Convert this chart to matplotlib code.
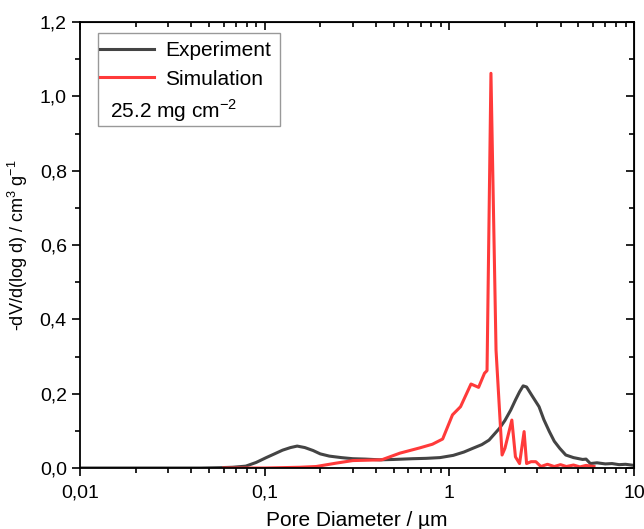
import matplotlib
matplotlib.use('Agg')
import matplotlib.pyplot as plt
from matplotlib.ticker import FuncFormatter, MultipleLocator, LogLocator
from matplotlib.patches import Rectangle

plt.rcParams['font.family'] = ['Liberation Sans', 'DejaVu Sans']
plt.rcParams['mathtext.fontset'] = 'custom'
plt.rcParams['mathtext.rm'] = 'Liberation Sans'

# Experiment (mercury porosimetry)
exp_d = [0.01, 0.03, 0.045, 0.058, 0.067, 0.079, 0.09, 0.102, 0.113, 0.125, 0.138,
         0.15, 0.165, 0.183, 0.2, 0.224, 0.26, 0.3, 0.35, 0.42, 0.5, 0.63, 0.75,
         0.89, 1.05, 1.2, 1.34, 1.5, 1.64, 1.87, 2.0, 2.15, 2.28, 2.4, 2.51, 2.62,
         2.8, 3.06, 3.25, 3.48, 3.7, 3.96, 4.27, 4.7, 5.27, 5.5, 5.8, 6.3, 7.0,
         7.6, 8.3, 9.0, 10.0]
exp_v = [0.0, 0.0, 0.0, 0.001, 0.002, 0.005, 0.015, 0.028, 0.038, 0.048, 0.055,
         0.059, 0.055, 0.047, 0.038, 0.032, 0.028, 0.025, 0.024, 0.022, 0.023, 0.025,
         0.026, 0.028, 0.034, 0.043, 0.053, 0.063, 0.075, 0.107, 0.128, 0.156, 0.183,
         0.205, 0.221, 0.218, 0.195, 0.165, 0.13, 0.098, 0.072, 0.053, 0.035, 0.028,
         0.023, 0.024, 0.012, 0.014, 0.011, 0.012, 0.009, 0.01, 0.007]

# Simulation
sim_d = [0.06, 0.1, 0.155, 0.19, 0.243, 0.3, 0.43, 0.54, 0.69, 0.81, 0.92, 1.04,
         1.15, 1.31, 1.44, 1.55, 1.6, 1.68, 1.79, 1.93, 2.0, 2.18, 2.28, 2.4, 2.54,
         2.62, 2.77, 2.94, 3.13, 3.4, 3.7, 4.0, 4.3, 4.7, 5.1, 5.5, 6.07]
sim_v = [0.0, 0.0, 0.002, 0.004, 0.013, 0.02, 0.022, 0.04, 0.054, 0.064, 0.078,
         0.143, 0.165, 0.226, 0.217, 0.255, 0.262, 1.062, 0.317, 0.035, 0.053, 0.129,
         0.03, 0.012, 0.098, 0.012, 0.017, 0.017, 0.004, 0.01, 0.004, 0.009, 0.004,
         0.008, 0.003, 0.007, 0.004]

xticks = [0.01, 0.1, 1, 10]
xticklabels = ['0,01', '0,1', '1', '10']

fig = plt.figure(figsize=(6.44, 5.29), dpi=100)
ax = fig.add_axes([0.1242, 0.1153, 0.8603, 0.8431])

ax.plot(exp_d, exp_v, color='#444444', lw=2.2, label='Experiment')
ax.plot(sim_d, sim_v, color='#ff3a3a', lw=2.2, label='Simulation')

ax.set_xscale('log')
ax.set_xlim(0.01, 10)
ax.set_ylim(0, 1.2)
ax.set_xticks(xticks)
ax.set_xticklabels(xticklabels)
ax.xaxis.set_minor_locator(LogLocator(base=10, subs=range(2, 10)))
ax.yaxis.set_major_locator(MultipleLocator(0.2))
ax.yaxis.set_minor_locator(MultipleLocator(0.1))
ax.yaxis.set_major_formatter(FuncFormatter(lambda v, p: f'{v:.1f}'.replace('.', ',')))
ax.xaxis.set_minor_formatter(FuncFormatter(lambda v, p: ''))

ax.tick_params(which='major', direction='out', length=6, width=1.2, labelsize=14, colors='black')
ax.tick_params(which='minor', direction='out', length=3.5, width=1.2)
ax.tick_params(axis='x', which='major', pad=6)
for s in ax.spines.values():
    s.set_linewidth(1.3)

top = ax.secondary_xaxis('top')
top.set_xticks(xticks)
top.tick_params(which='both', direction='in', labeltop=False, width=1.2)
top.tick_params(which='major', length=6)
top.tick_params(which='minor', length=3.5)
top.xaxis.set_minor_locator(LogLocator(base=10, subs=range(2, 10)))
top.xaxis.set_minor_formatter(FuncFormatter(lambda v, p: ''))

right = ax.secondary_yaxis('right')
right.yaxis.set_major_locator(MultipleLocator(0.2))
right.yaxis.set_minor_locator(MultipleLocator(0.1))
right.tick_params(which='both', direction='in', labelright=False, width=1.2)
right.tick_params(which='major', length=6)
right.tick_params(which='minor', length=3.5)

ax.set_xlabel('Pore Diameter / µm', fontsize=15, labelpad=7)
ax.set_ylabel('-dV/d(log d) / cm$^3$ g$^{-1}$', fontsize=13, labelpad=7)

# legend box
ax.add_patch(Rectangle((0.0325, 0.767), 0.3285, 0.208, transform=ax.transAxes,
                       facecolor='white', edgecolor='#999999', lw=1.0, zorder=4))
leg = ax.legend(loc='upper left', bbox_to_anchor=(0.029, 0.966), frameon=False,
                fontsize=15, handlelength=2.6, handletextpad=0.5, labelspacing=0.45,
                borderaxespad=0, borderpad=0.2)
leg.set_zorder(5)
ax.text(0.0545, 0.802, '25.2 mg cm$^{-2}$', transform=ax.transAxes, fontsize=15,
        va='center', ha='left', zorder=6)

fig.savefig('out.png', dpi=100)
